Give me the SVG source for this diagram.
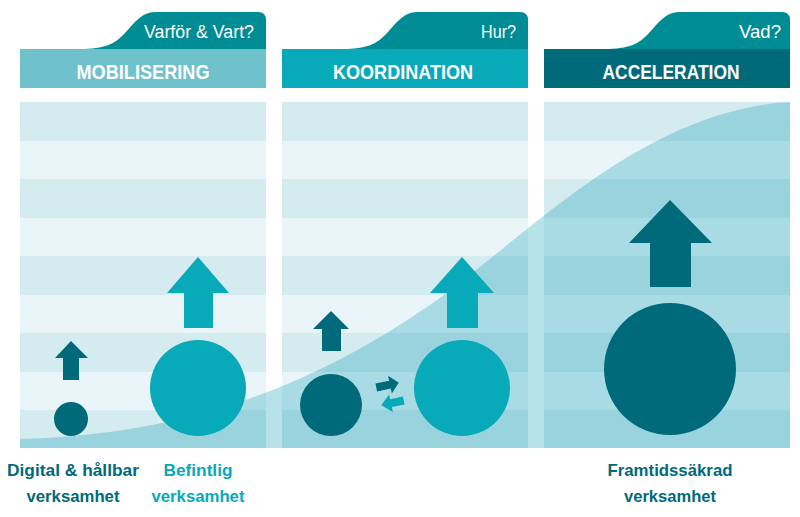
<svg xmlns="http://www.w3.org/2000/svg" width="800" height="517" viewBox="0 0 800 517">
<style>
.dk{fill:#d4ebf0}.lt{fill:#e9f5f8}
.tab{fill:#008c94}
.q{font-family:"Liberation Sans Narrow","Liberation Sans",Arial,sans-serif;font-size:18px;fill:#fff;text-anchor:end}
.h{font-family:"Liberation Sans Narrow","Liberation Sans",Arial,sans-serif;font-weight:bold;font-size:21px;fill:#fff;text-anchor:middle}
.lbl{font-family:"Liberation Sans Narrow","Liberation Sans",Arial,sans-serif;font-weight:bold;font-size:17px;text-anchor:middle}
.dark{fill:#006a7a}.mid{fill:#08a9b8}
</style>
<defs>
<g id="stripes">
<rect x="0" y="102" width="246" height="39" class="dk"/>
<rect x="0" y="141" width="246" height="38" class="lt"/>
<rect x="0" y="179" width="246" height="39" class="dk"/>
<rect x="0" y="218" width="246" height="38" class="lt"/>
<rect x="0" y="256" width="246" height="39" class="dk"/>
<rect x="0" y="295" width="246" height="38" class="lt"/>
<rect x="0" y="333" width="246" height="39" class="dk"/>
<rect x="0" y="372" width="246" height="38" class="lt"/>
<rect x="0" y="410" width="246" height="38" class="dk"/>
</g>
<path id="tabshape" d="M0,49 C25,49 35,44 45,33 C55,22 62,12 75,12 L178,12 Q186,12 186,20 L186,49 Z"/>
</defs>

<g id="background">
<use href="#stripes" x="20"/>
<use href="#stripes" x="282"/>
<use href="#stripes" x="544"/>
<path id="curve" d="M20,439 C170,435 300,395 430,305 C520,243 640,110 790,102 L790,448 L20,448 Z" fill="#0097b0" fill-opacity="0.28"/>
</g>

<g id="col-mobilisering">
<use href="#tabshape" x="80" class="tab"/>
<rect x="20" y="49" width="246" height="39" fill="#6fc1cb"/>
<text x="254" y="38" class="q" textLength="110" lengthAdjust="spacingAndGlyphs">Varför &amp; Vart?</text>
<text x="143" y="79" class="h" textLength="133" lengthAdjust="spacingAndGlyphs">MOBILISERING</text>
</g>
<g id="col-koordination">
<use href="#tabshape" x="342" class="tab"/>
<rect x="282" y="49" width="246" height="39" fill="#08a9b8"/>
<text x="516" y="38" class="q" textLength="35" lengthAdjust="spacingAndGlyphs">Hur?</text>
<text x="403" y="79" class="h" textLength="140" lengthAdjust="spacingAndGlyphs">KOORDINATION</text>
</g>
<g id="col-acceleration">
<use href="#tabshape" x="604" class="tab"/>
<rect x="544" y="49" width="246" height="39" fill="#006a7a"/>
<text x="781" y="38" class="q" textLength="42" lengthAdjust="spacingAndGlyphs">Vad?</text>
<text x="671" y="79" class="h" textLength="137" lengthAdjust="spacingAndGlyphs">ACCELERATION</text>
</g>

<g id="node-digital">
<polygon class="dark" points="71,341 88,358 79,358 79,380 63,380 63,358 55,358"/>
<circle class="dark" cx="71" cy="419" r="17"/>
<text class="lbl dark" x="73" y="476" textLength="132" lengthAdjust="spacingAndGlyphs">Digital &amp; hållbar</text>
<text class="lbl dark" x="73" y="502" textLength="93" lengthAdjust="spacingAndGlyphs">verksamhet</text>
</g>
<g id="node-befintlig">
<polygon class="mid" points="198,257 229,293 213,293 213,328 184,328 184,293 167,293"/>
<circle class="mid" cx="198" cy="388" r="48"/>
<text class="lbl mid" x="198" y="476" textLength="69" lengthAdjust="spacingAndGlyphs">Befintlig</text>
<text class="lbl mid" x="198" y="502" textLength="93" lengthAdjust="spacingAndGlyphs">verksamhet</text>
</g>
<g id="node-koord-small">
<polygon class="dark" points="331,311 349,329 341,329 341,351 322,351 322,329 313,329"/>
<circle class="dark" cx="331" cy="405" r="31"/>
</g>
<g id="node-koord-big">
<polygon class="mid" points="462,257 494,293 478,293 478,328 447,328 447,293 430,293"/>
<circle class="mid" cx="462" cy="388" r="48"/>
</g>
<g id="node-framtid">
<polygon class="dark" points="670,200 712,243 691,243 691,287 650,287 650,243 629,243"/>
<circle class="dark" cx="670" cy="369" r="66"/>
<text class="lbl dark" x="670" y="476" textLength="125" lengthAdjust="spacingAndGlyphs">Framtidssäkrad</text>
<text class="lbl dark" x="670" y="502" textLength="92" lengthAdjust="spacingAndGlyphs">verksamhet</text>
</g>

<g id="connectors">
<polygon class="dark" transform="rotate(-12 388 385)" points="376,381 390,381 390,376 399,385 390,394 390,389 376,389"/>
<polygon class="mid" transform="rotate(-12 392 403)" points="404,399 391,399 391,394 381,403 391,412 391,407 404,407"/>
</g>
</svg>
